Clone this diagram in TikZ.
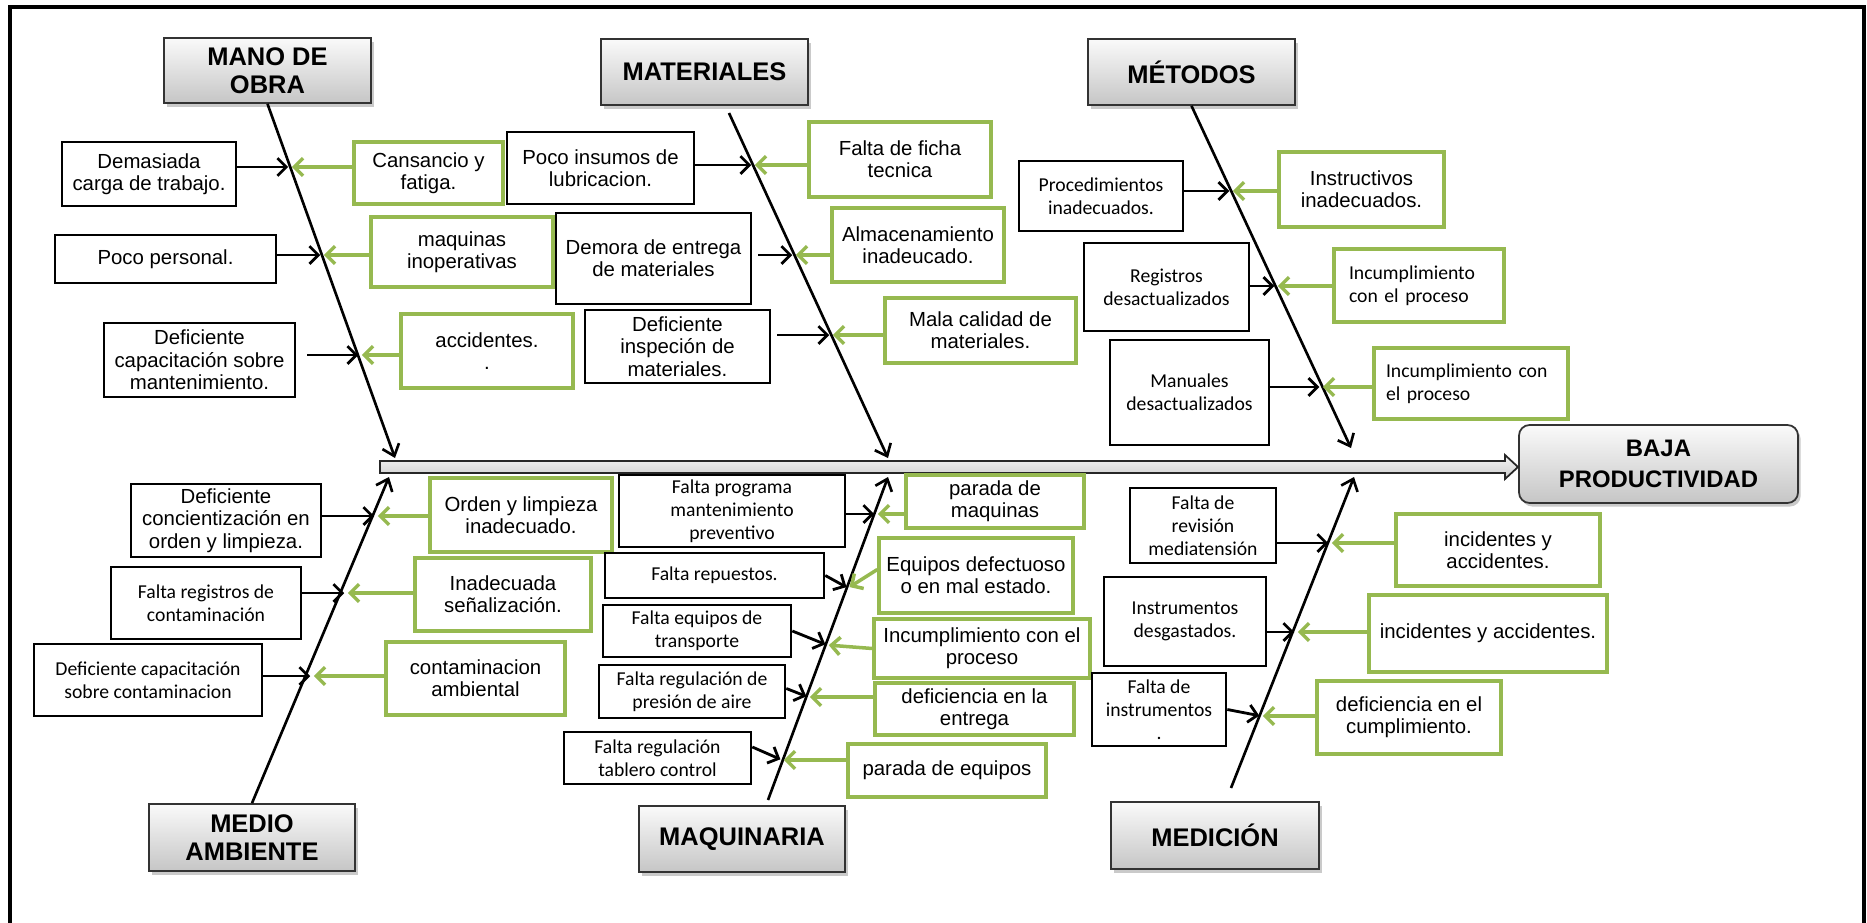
\documentclass[tikz,border=0pt]{standalone}
\usepackage{fontspec}
\setmainfont{Liberation Sans}
\newfontfamily\calib{Carlito}
\usetikzlibrary{arrows.meta,shadows}
\definecolor{verde}{RGB}{150,185,80}

\begin{document}
\begin{tikzpicture}
		[x=0.02cm, y=-0.02cm,
		sz/.style 2 args={minimum width=#1*0.02cm, minimum height=#2*0.02cm},
		cat/.style={draw=black!80, line width=1pt, top color=gray!4, bottom color=gray!45,
			drop shadow={shadow xshift=1.5pt, shadow yshift=-2pt, fill=black!60, opacity=0.35},
			font=\fontsize{14.5}{16}\selectfont\bfseries, align=center, inner sep=1pt},
		cause/.style={draw, line width=1.5pt, fill=white, align=center, inner sep=1pt,
			font=\fontsize{11.6}{12.7}\selectfont},
		ccause/.style={cause, font=\calib\fontsize{11.2}{13}\selectfont},
		efecto/.style={cause, draw=verde, line width=1.9pt},
		bone/.style={line width=1.5pt, -{Straight Barb[length=6pt,width=10pt]}},
		blk/.style={line width=1.6pt, -{Straight Barb[length=5pt,width=10pt]}, shorten >=1pt},
		grn/.style={blk, verde, line width=2pt}]
		
		\useasboundingbox (0,0) rectangle (1867,923);
		\draw[line width=2pt] (10,923) -- (10,7) -- (1864,7) -- (1864,923); % marco
		
		% efecto
		\node[cat, rounded corners=6pt, sz={279}{78}, font=\fontsize{13.6}{17.6}\selectfont\bfseries]
		(baja) at (1658.5,464) {BAJA\\PRODUCTIVIDAD};
		\draw[line width=1pt, draw=black!85, top color=gray!8, bottom color=gray!40]
		(380,461) -- (1505,461) -- (1505,455) -- (1518,467) -- (1505,479) -- (1505,473)
		-- (380,473) -- cycle;
		
		% categorias
		\node[cat, sz={207}{65}] (mo) at (267.5,70.5) {MANO DE\\OBRA};
		\node[cat, sz={207}{66}] (mat) at (704.5,72) {MATERIALES};
		\node[cat, sz={207}{66}] (met) at (1191.5,72) {MÉTODOS};
		\node[cat, sz={206}{67}] (ma) at (252,837.5) {MEDIO\\AMBIENTE};
		\node[cat, sz={206}{66}] (maq) at (742,839) {MAQUINARIA};
		\node[cat, sz={208}{67}] (med) at (1215,835.5) {MEDICIÓN};
		
		\coordinate (mo-t) at (395,458);
		\coordinate (mat-s) at (729,113);
		\coordinate (mat-t) at (888,458);
		\coordinate (met-t) at (1351,448);
		\coordinate (ma-t) at (389,477);
		\coordinate (maq-s) at (768,800);
		\coordinate (maq-t) at (888,477);
		\coordinate (med-s) at (1231,788);
		\coordinate (med-t) at (1354,477);
		
		\draw[bone] (mo.south) -- (mo-t);
		\draw[bone] (mat-s) -- (mat-t);
		\draw[bone] (met.south) -- (met-t);
		\draw[bone] (ma.north) -- (ma-t);
		\draw[bone] (maq-s) -- (maq-t);
		\draw[bone] (med-s) -- (med-t);
		
		% mano de obra
		\coordinate (mo1) at (290,167);
		\coordinate (mo2) at (322,255);
		\coordinate (mo3) at (360,355);
		\node[cause, sz={174}{64}] (dem) at (149,174) {Demasiada\\carga de trabajo.};
		\node[efecto, sz={149}{62}] (can) at (428.5,173) {Cansancio y\\fatiga.};
		\node[cause, sz={221}{48}] (poco) at (165.5,259) {Poco personal.};
		\node[efecto, sz={182}{70}] (maqi) at (462,252) {maquinas\\inoperativas};
		\node[cause, sz={191}{74}] (defc) at (199.5,360) {Deficiente\\capacitación sobre\\mantenimiento.};
		\node[efecto, sz={172}{74}] (acc) at (487,351) {accidentes.\\.};
		\draw[blk] (dem.east |- mo1) -- (mo1);
		\draw[grn] (can.west |- mo1) -- (mo1);
		\draw[blk] (poco.east |- mo2) -- (mo2);
		\draw[grn] (maqi.west |- mo2) -- (mo2);
		\draw[blk, shorten <=0.22cm] (defc.east |- mo3) -- (mo3);
		\draw[grn] (acc.west |- mo3) -- (mo3);
		
		% materiales
		\coordinate (mat1) at (753,165);
		\coordinate (mat2) at (794,255);
		\coordinate (mat3) at (831,335);
		\node[cause, sz={187}{72}] (pins) at (600.5,168) {Poco insumos de\\lubricacion.};
		\node[efecto, sz={182}{75}] (ficha) at (900,159.5) {Falta de ficha\\tecnica};
		\node[cause, sz={195}{91}] (demo) at (653.5,258.5) {Demora de entrega\\de materiales};
		\node[efecto, sz={172}{74}] (alm) at (918,245) {Almacenamiento\\inadeucado.};
		\node[cause, sz={185}{73}] (dins) at (677.5,346.5) {Deficiente\\inspeción de\\materiales.};
		\node[efecto, sz={191}{65}] (mala) at (980.5,330.5) {Mala calidad de\\materiales.};
		\draw[blk] (pins.east |- mat1) -- (mat1);
		\draw[grn] (ficha.west |- mat1) -- (mat1);
		\draw[blk, shorten <=0.12cm] (demo.east |- mat2) -- (mat2);
		\draw[grn] (alm.west |- mat2) -- (mat2);
		\draw[blk, shorten <=0.12cm] (dins.east |- mat3) -- (mat3);
		\draw[grn] (mala.west |- mat3) -- (mat3);
		
		% metodos
		\coordinate (met1) at (1231,191);
		\coordinate (met2) at (1276,286);
		\coordinate (met3) at (1321,387);
		\node[ccause, sz={164}{70}] (proc) at (1101,196) {Procedimientos\\inadecuados.};
		\node[efecto, sz={165}{75}] (inst) at (1361.5,189.5) {Instructivos\\inadecuados.};
		\node[ccause, sz={165}{88}] (reg) at (1166.5,287) {Registros\\desactualizados};
		\node[efecto, sz={170}{73}, font=\calib\fontsize{11.2}{13}\selectfont, text width=2.8cm, align=left]
		(inc1) at (1419,285.5) {Incumplimiento\\con el proceso};
		\node[ccause, sz={159}{105}] (man) at (1189.5,392.5) {Manuales\\desactualizados};
		\node[efecto, sz={194}{71}, font=\calib\fontsize{11.2}{13}\selectfont, text width=3.4cm, align=left]
		(inc2) at (1471,383.5) {Incumplimiento con\\el proceso};
		\draw[blk] (proc.east |- met1) -- (met1);
		\draw[grn] (inst.west |- met1) -- (met1);
		\draw[blk] (reg.east |- met2) -- (met2);
		\draw[grn] (inc1.west |- met2) -- (met2);
		\draw[blk] (man.east |- met3) -- (met3);
		\draw[grn] (inc2.west |- met3) -- (met3);
		
		% medio ambiente
		\coordinate (ma1) at (376,516);
		\coordinate (ma2) at (346,593);
		\coordinate (ma3) at (312,676);
		\node[cause, sz={190}{73}] (dcon) at (226,520.5) {Deficiente\\concientización en\\orden y limpieza.};
		\node[efecto, sz={182}{74}] (orden) at (521,515) {Orden y limpieza\\inadecuado.};
		\node[ccause, sz={190}{72}] (freg) at (206,603) {Falta registros de\\contaminación};
		\node[efecto, sz={176}{73}] (senal) at (503,594.5) {Inadecuada\\señalización.};
		\node[ccause, sz={228}{72}] (dcap) at (148,680) {Deficiente capacitación\\sobre contaminacion};
		\node[efecto, sz={179}{73}] (cont) at (475.5,678.5) {contaminacion\\ambiental};
		\draw[blk] (dcon.east |- ma1) -- (ma1);
		\draw[grn] (orden.west |- ma1) -- (ma1);
		\draw[blk] (freg.east |- ma2) -- (ma2);
		\draw[grn] (senal.west |- ma2) -- (ma2);
		\draw[blk] (dcap.east |- ma3) -- (ma3);
		\draw[grn] (cont.west |- ma3) -- (ma3);
		
		% maquinaria
		\coordinate (q1) at (876,514);
		\coordinate (q2) at (848,588);
		\coordinate (q3) at (827,645);
		\coordinate (q4) at (808,697);
		\coordinate (q5) at (782,760);
		\node[ccause, sz={226}{72}] (fprog) at (732,511) {Falta programa\\mantenimiento\\preventivo};
		\node[efecto, sz={178}{53}] (pmaq) at (995,501.5) {parada de\\maquinas};
		\node[ccause, sz={219}{45}] (frep) at (714.5,575.5) {Falta repuestos.};
		\node[efecto, sz={194}{75}] (equi) at (976,575.5) {Equipos defectuoso\\o en mal estado.};
		\node[ccause, sz={188}{52}] (ftra) at (697,631) {Falta equipos de\\transporte};
		\node[efecto, sz={216}{59}] (inc3) at (982,648.5) {Incumplimiento con el\\proceso};
		\node[ccause, sz={186}{53}] (fpre) at (692,691.5) {Falta regulación de\\presión de aire};
		\node[efecto, sz={199}{52}] (defe) at (974.5,709) {deficiencia en la\\entrega};
		\node[ccause, sz={187}{52}] (ftab) at (657.5,758) {Falta regulación\\tablero control};
		\node[efecto, sz={198}{53}] (peq) at (947,770.5) {parada de equipos};
		\draw[blk] (fprog.east |- q1) -- (q1);
		\draw[grn] (pmaq.west |- q1) -- (q1);
		\draw[blk] (frep.east) -- (q2);
		\draw[grn] ([yshift=0.12cm]equi.west) -- (q2);
		\draw[blk] (ftra.east) -- (q3);
		\draw[grn] (inc3.west) -- (q3);
		\draw[blk] ([yshift=0.06cm]fpre.east) -- (q4);
		\draw[grn] (defe.west |- q4) -- (q4);
		\draw[blk] ([yshift=0.22cm]ftab.east) -- (q5);
		\draw[grn] (peq.west |- q5) -- (q5);
		
		% medicion
		\coordinate (d1) at (1330,543);
		\coordinate (d2) at (1296,632);
		\coordinate (d3) at (1261,716);
		\node[ccause, sz={146}{75}] (frev) at (1203,525.5) {Falta de\\revisión\\mediatensión};
		\node[efecto, sz={204}{72}] (ia1) at (1498,550) {incidentes y\\accidentes.};
		\node[ccause, sz={162}{89}] (ides) at (1185,621.5) {Instrumentos\\desgastados.};
		\node[efecto, sz={238}{77}] (ia2) at (1488,633.5) {incidentes y accidentes.};
		\node[ccause, sz={134}{73}] (fins) at (1159,709.5) {Falta de\\instrumentos\\.};
		\node[efecto, sz={184}{73}] (dcum) at (1409,717.5) {deficiencia en el\\cumplimiento.};
		\draw[blk] (frev.east |- d1) -- (d1);
		\draw[grn] (ia1.west |- d1) -- (d1);
		\draw[blk] (ides.east |- d2) -- (d2);
		\draw[grn] (ia2.west |- d2) -- (d2);
		\draw[blk] (fins.east) -- (d3);
		\draw[grn] (dcum.west |- d3) -- (d3);
		
\end{tikzpicture}
\end{document}
